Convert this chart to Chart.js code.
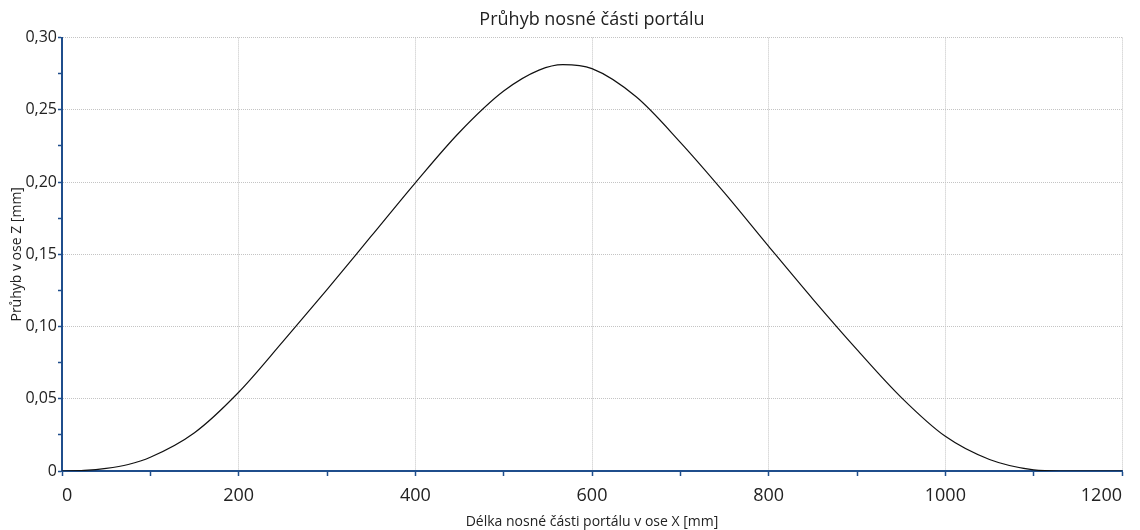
<!DOCTYPE html>
<html lang="cs">
<head>
    <meta charset="UTF-8">
    <title>Průhyb nosné části portálu</title>
    <script src="https://cdn.jsdelivr.net/npm/chart.js"></script>
    <style>
        body { margin: 0; padding: 0; background: #fff; }
        #wrap { width: 1140px; height: 530px; position: relative; }
    </style>
</head>
<body>
<div id="wrap"><canvas id="myChart"></canvas></div>
<script>
    // poloha x [mm] a průhyb z [mm]
    const polohaX = [0, 25, 50, 75, 100, 150, 200, 250, 300, 350, 400, 450, 500, 540, 567, 600, 650, 700, 750, 800, 850, 900, 950, 1000, 1050, 1100, 1130, 1200];
    const pruhybZ = [0, 0.0004, 0.0018, 0.0045, 0.0095, 0.0265, 0.0545, 0.0895, 0.1255, 0.1625, 0.1995, 0.2345, 0.263, 0.2775, 0.2813, 0.2785, 0.259, 0.2275, 0.1925, 0.1555, 0.119, 0.084, 0.051, 0.024, 0.008, 0.0008, 0, 0];

    const nadpis = 'Průhyb nosné části portálu';
    const popisX = 'Délka nosné části portálu v ose X [mm]';
    const popisY = 'Průhyb v ose Z [mm]';

    const osaBarva = '#1f4e8c';
    const mrizka = '#c4c4c4';
    const pismo = "'Open Sans', sans-serif";

    const body = polohaX.map((x, i) => ({ x: x, y: pruhybZ[i] }));

    new Chart(document.getElementById('myChart'), {
        type: 'scatter',
        data: {
            datasets: [{
                data: body,
                showLine: true,
                borderColor: '#111',
                borderWidth: 1.2,
                pointRadius: 0,
                cubicInterpolationMode: 'monotone'
            }]
        },
        options: {
            responsive: true,
            maintainAspectRatio: false,
            animation: false,
            layout: { padding: 0 },
            plugins: {
                legend: { display: false },
                tooltip: { enabled: false },
                title: {
                    display: true,
                    fullSize: false,
                    text: nadpis,
                    color: '#222',
                    font: { family: pismo, size: 18, weight: 'normal' },
                    padding: { top: 9, bottom: 7 }
                }
            },
            scales: {
                x: {
                    type: 'linear',
                    min: 0, max: 1200,
                    afterFit: s => { s.height = 59; s.paddingRight = 18; s.paddingLeft = 0; },
                    ticks: {
                        stepSize: 100,
                        color: '#222',
                        padding: 9,
                        align: 'inner',
                        maxRotation: 0,
                        autoSkip: false,
                        font: { family: pismo, size: 18 },
                        callback: v => (v % 200 === 0 ? String(v) : '')
                    },
                    grid: {
                        color: c => (c.tick && c.tick.value % 200 === 0 && c.tick.value !== 0 ? mrizka : 'rgba(0,0,0,0)'),
                        tickColor: osaBarva,
                        tickLength: 5,
                        tickWidth: 1.5
                    },
                    border: { color: osaBarva, width: 2, dash: [1, 1] },
                    title: {
                        display: true,
                        text: popisX,
                        color: '#222',
                        font: { family: pismo, size: 14 },
                        padding: { top: 3, bottom: 0 }
                    }
                },
                y: {
                    min: 0, max: 0.30,
                    afterFit: s => { s.width = 62; },
                    ticks: {
                        stepSize: 0.025,
                        color: '#222',
                        padding: 1,
                        autoSkip: false,
                        font: { family: pismo, size: 16 },
                        callback: v => {
                            const m = Math.round(v * 1000);
                            if (m % 50 !== 0) return '';
                            return m === 0 ? '0' : (m / 1000).toFixed(2).replace('.', ',');
                        }
                    },
                    grid: {
                        color: c => (c.tick && Math.round(c.tick.value * 1000) % 50 === 0 && c.tick.value !== 0 ? mrizka : 'rgba(0,0,0,0)'),
                        tickColor: osaBarva,
                        tickLength: 4,
                        tickWidth: 1.5
                    },
                    border: { color: osaBarva, width: 2, dash: [1, 1] },
                    title: {
                        display: true,
                        text: popisY,
                        color: '#222',
                        font: { family: pismo, size: 14 },
                        padding: { top: 9, bottom: 0 }
                    }
                }
            }
        }
    });
</script>
</body>
</html>
